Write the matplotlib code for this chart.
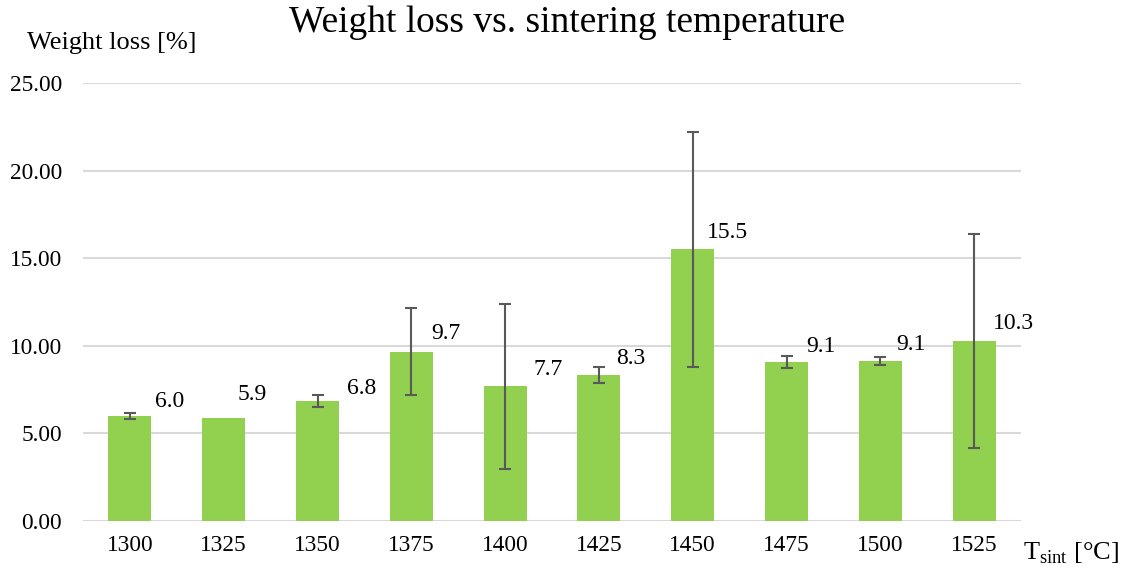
import matplotlib
matplotlib.use("Agg")
import matplotlib.pyplot as plt
import numpy as np

# data
temps = ["1300", "1325", "1350", "1375", "1400", "1425", "1450", "1475", "1500", "1525"]
weight_loss = [5.99, 5.88, 6.83, 9.67, 7.68, 8.33, 15.50, 9.06, 9.12, 10.26]
std_dev = [0.19, 0.0, 0.34, 2.47, 4.72, 0.47, 6.70, 0.33, 0.23, 6.10]
value_labels = ["6.0", "5.9", "6.8", "9.7", "7.7", "8.3", "15.5", "9.1", "9.1", "10.3"]

# label offsets (pixels) from the top centre of each bar
label_dx = [25, 14, 29, 20, 28, 17, 14, 20, 16, 19]
label_dy = [4, 13, 2, 8, 6, 6, 6, 5, 6, 7]

plt.rcParams['font.family'] = ['Liberation Serif', 'DejaVu Serif']
plt.rcParams['mathtext.fontset'] = 'custom'
plt.rcParams['mathtext.rm'] = 'Liberation Serif'

W, H = 1121, 570
fig = plt.figure(figsize=(W / 100, H / 100), dpi=100)
ax = fig.add_axes([83 / W, (H - 521) / H, (1021 - 83) / W, (521 - 83) / H])

x = np.arange(len(temps))
ax.bar(x, weight_loss, width=0.46, color="#92D050", zorder=2)

# only draw error bars where there is a deviation
has_err = [i for i, e in enumerate(std_dev) if e > 0]
ax.errorbar(x[has_err], [weight_loss[i] for i in has_err],
            yerr=[std_dev[i] for i in has_err], fmt="none", ecolor="#595959",
            elinewidth=1.5, capsize=4, capthick=1.5, zorder=3)

for xi, yi, lab, dx, dy in zip(x, weight_loss, value_labels, label_dx, label_dy):
    ax.annotate(lab, xy=(xi, yi), xytext=(dx * 0.72, dy * 0.72),
                textcoords="offset points", ha="left", va="bottom",
                fontsize=17, color="#000000", zorder=4)

ax.set_xlim(-0.5, len(temps) - 0.5)
ax.set_ylim(0, 25)
ax.set_yticks(np.arange(0, 25.1, 5))
ax.set_yticklabels([f"{v:.2f}" for v in np.arange(0, 25.1, 5)], fontsize=16.8)
ax.set_xticks(x)
ax.set_xticklabels(temps, fontsize=16.8)
ax.tick_params(axis="both", length=0)
ax.tick_params(axis="y", pad=15)
ax.tick_params(axis="x", pad=10)
ax.grid(axis="y", color="#D9D9D9", linewidth=1.5, zorder=0)
ax.set_axisbelow(True)
for s in ax.spines.values():
    s.set_visible(False)

fig.text(567 / W, 1 - 23 / H, "Weight loss vs. sintering temperature",
         ha="center", va="center", fontsize=27)
fig.text(27 / W, 1 - 43 / H, "Weight loss [%]", ha="left", va="center", fontsize=19)
fig.text(1023 / W, 1 - 553 / H, r"T$_{\mathrm{sint}}$ [°C]", ha="left", va="center",
         fontsize=19)

fig.savefig("out.png", dpi=100)
